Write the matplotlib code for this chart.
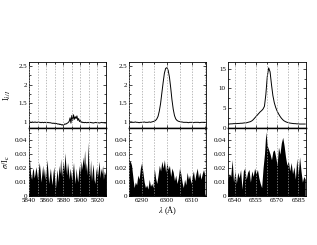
import numpy as np
from matplotlib import pyplot as plt
from matplotlib.ticker import MultipleLocator, FormatStrFormatter

plt.rcParams['font.family'] = ['Liberation Serif', 'DejaVu Serif']
plt.rcParams['mathtext.fontset'] = 'stix'

# Na D region
wl_na = np.arange(5840, 5931, 1.0)
flux_na = [1.0, 1.01, 1.0, 1.0, 1.01, 1.0, 1.0, 1.01, 1.0, 1.0,
           1.0, 1.01, 1.0, 1.0, 0.99, 1.0, 1.0, 0.99, 1.0, 1.0,
           0.99, 0.99, 1.0, 0.99, 0.99,
           0.99, 0.98, 0.98, 0.97, 0.98, 0.97, 0.96, 0.97, 0.96, 0.95,
           0.96, 0.94, 0.95, 0.93, 0.94, 0.92,
           0.94, 0.96, 0.95, 0.97, 0.98, 1.0, 1.03,
           1.12, 0.98, 1.18, 1.05, 1.2, 1.08, 1.15, 1.1, 1.17, 1.05, 1.1, 1.02, 1.05,
           1.0, 1.01, 0.99, 1.0, 0.99, 1.0, 0.99, 0.99, 1.0, 0.99,
           0.99, 1.0, 0.99, 0.99, 0.98, 0.99, 0.99, 1.0, 0.99, 0.99,
           0.99, 0.98, 0.99, 0.99, 1.0, 0.99, 0.99, 0.99, 0.98, 0.99]
sig_na = [0.033, 0.022, 0.015, 0.012, 0.018, 0.02, 0.013, 0.016, 0.021, 0.017,
          0.012, 0.019, 0.024, 0.018, 0.01, 0.016, 0.022, 0.014, 0.02, 0.012,
          0.017, 0.026, 0.018, 0.009, 0.015, 0.02, 0.013, 0.008, 0.016, 0.021,
          0.012, 0.006, 0.014, 0.019, 0.01, 0.022, 0.016, 0.027, 0.014, 0.02,
          0.025, 0.018, 0.031, 0.022, 0.015, 0.024, 0.019, 0.012, 0.02, 0.016,
          0.011, 0.018, 0.024, 0.015, 0.009, 0.02, 0.014, 0.01, 0.018, 0.022,
          0.016, 0.025, 0.019, 0.028, 0.022, 0.033, 0.018, 0.024, 0.015, 0.0385,
          0.02, 0.014, 0.026, 0.011, 0.018, 0.023, 0.012, 0.009, 0.017, 0.021,
          0.014, 0.019, 0.025, 0.013, 0.02, 0.016, 0.022, 0.012, 0.018, 0.015, 0.02]

# [OI] 6300 region
wl_oi = np.arange(6285, 6315.01, 0.5)
flux_oi = [1.02, 1.01, 1.01, 1.0, 1.0, 1.01, 1.0, 1.0, 0.99, 1.0,
           1.0, 1.0, 1.01, 1.0, 1.0, 1.0, 1.01, 1.0, 1.01, 1.02,
           1.03, 1.05, 1.09, 1.16, 1.3, 1.5, 1.78, 2.05, 2.3, 2.43,
           2.45, 2.38, 2.2, 1.92, 1.6, 1.35, 1.18, 1.09, 1.05, 1.03,
           1.02, 1.01, 1.01, 1.0, 1.0, 1.0, 1.0, 0.99, 1.0, 1.0,
           1.0, 0.99, 1.0, 1.0, 1.0, 1.0, 0.99, 1.0, 1.0, 1.0, 1.0]
sig_oi = [0.024, 0.025, 0.022, 0.014, 0.006, 0.01, 0.008, 0.015, 0.012, 0.02,
          0.024, 0.017, 0.01, 0.006, 0.008, 0.005, 0.012, 0.007, 0.009, 0.006,
          0.02, 0.013, 0.009, 0.015, 0.022, 0.018, 0.025, 0.02, 0.026, 0.017,
          0.024, 0.019, 0.022, 0.014, 0.02, 0.017, 0.011, 0.015, 0.009, 0.013,
          0.02, 0.016, 0.01, 0.006, 0.012, 0.008, 0.017, 0.012, 0.015, 0.009,
          0.014, 0.018, 0.011, 0.016, 0.02, 0.013, 0.017, 0.012, 0.016, 0.019, 0.015]

# H alpha region
wl_ha = np.arange(6535, 6591, 1.0)
flux_ha = [1.0, 1.0, 1.05, 1.05, 1.1, 1.1, 1.1, 1.15, 1.15, 1.2,
           1.2, 1.25, 1.3, 1.3, 1.4, 1.5, 1.6, 1.8, 2.1, 2.5,
           2.9, 3.3, 3.7, 4.1, 4.4, 4.8, 5.5, 8.5, 13.0, 15.2,
           14.2, 11.0, 8.2, 6.4, 5.2, 4.3, 3.6, 3.0, 2.5, 2.1,
           1.8, 1.6, 1.45, 1.35, 1.25, 1.2, 1.15, 1.1, 1.1, 1.05,
           1.05, 1.0, 1.0, 1.0, 1.0, 1.0]
sig_ha = [0.012, 0.016, 0.014, 0.026, 0.01, 0.018, 0.009, 0.017, 0.013, 0.019,
          0.005, 0.018, 0.02, 0.012, 0.017, 0.019, 0.01, 0.018, 0.014, 0.02,
          0.016, 0.019, 0.013, 0.009, 0.006, 0.02, 0.03, 0.046, 0.036, 0.033,
          0.03, 0.026, 0.032, 0.033, 0.028, 0.022, 0.035, 0.03, 0.038, 0.042,
          0.036, 0.028, 0.022, 0.025, 0.018, 0.024, 0.016, 0.021, 0.012, 0.027,
          0.015, 0.028, 0.018, 0.01, 0.014, 0.012]

panels = [
    (wl_na, flux_na, sig_na, (5840, 5930), 20, 10, (0.85, 2.6), 0.5, 0.25),
    (wl_oi, flux_oi, sig_oi, (6285, 6315.5), 10, 5, (0.85, 2.6), 0.5, 0.25),
    (wl_ha, flux_ha, sig_ha, (6535, 6590.5), 15, 7.5, (0, 16.7), 5, 2.5),
]
lefts = [0.0915, 0.407, 0.719]
widths = [0.243, 0.243, 0.246]

fig = plt.figure(figsize=(3.17, 2.45), dpi=100)

for i, (wl, fl, sg, xlim, xmaj, xmin, ylim, ymaj, ymin) in enumerate(panels):
    ax1 = fig.add_axes([lefts[i], 0.4776, widths[i], 0.2694])
    ax2 = fig.add_axes([lefts[i], 0.2, widths[i], 0.2776])
    ax1.plot(wl, fl, color='black', lw=0.7)
    ax2.fill_between(wl, 0, sg, color='black', lw=0)
    for ax in (ax1, ax2):
        ax.set_xlim(*xlim)
        ax.xaxis.set_major_locator(MultipleLocator(xmaj))
        ax.xaxis.set_minor_locator(MultipleLocator(xmin))
        ax.grid(True, axis='x', which='both', color='#a0a0a0', ls=(0, (2, 2)), lw=0.5)
        ax.set_axisbelow(False)
        ax.tick_params(which='both', direction='in', top=True, right=True,
                       labelsize=5, pad=1.5)
        ax.tick_params(which='major', length=2.5, width=0.5)
        ax.tick_params(which='minor', length=1.5, width=0.5)
        for s in ax.spines.values():
            s.set_linewidth(0.6)
    ax1.set_ylim(*ylim)
    ax1.yaxis.set_major_locator(MultipleLocator(ymaj))
    ax1.yaxis.set_minor_locator(MultipleLocator(ymin))
    ax1.yaxis.set_major_formatter(FormatStrFormatter('%g'))
    ax2.set_ylim(0, 0.0487)
    ax2.yaxis.set_major_locator(MultipleLocator(0.01))
    ax2.yaxis.set_minor_locator(MultipleLocator(0.005))
    ax2.yaxis.set_major_formatter(FormatStrFormatter('%g'))
    ax1.tick_params(labelbottom=False)
    ax1.spines['bottom'].set_linewidth(1.0)
    ax2.spines['top'].set_linewidth(1.0)
    if i == 0:
        ax1.set_ylabel(r'I$_{\lambda/I}$', fontsize=6, labelpad=4)
        ax2.set_ylabel(r'$\sigma$/I$_{\mathrm{c}}$', fontsize=6, labelpad=2)
    if i == 1:
        ax2.set_xlabel(r'$\lambda$ (Å)', fontsize=6, labelpad=1)

fig.savefig('out.png', dpi=100)
